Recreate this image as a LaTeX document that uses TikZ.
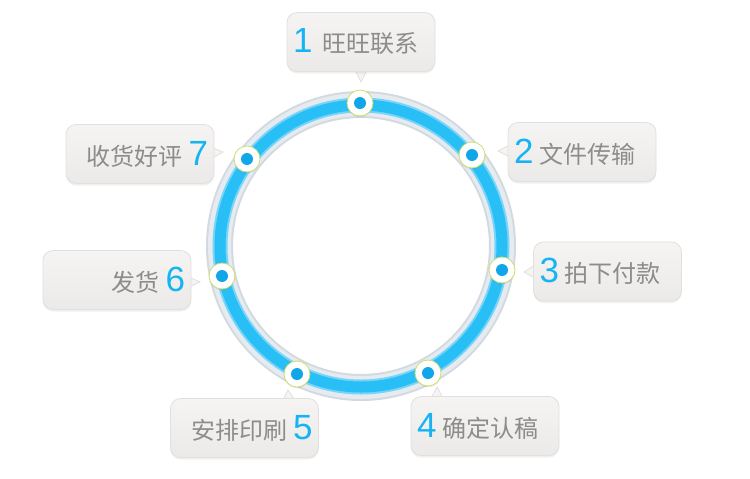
\documentclass[tikz,border=0pt]{standalone}
\usepackage{fontspec}
\setmainfont{Liberation Sans}
\newfontfamily\cjk{Noto Sans CJK SC}
\usepackage{tikz}
\usetikzlibrary{calc, shadows}
\definecolor{ringgray}{RGB}{210,217,224}
\definecolor{ringlight}{RGB}{230,235,239}
\definecolor{ringblue}{RGB}{40,190,246}
\definecolor{ringedge}{RGB}{120,212,248}
\definecolor{dotblue}{RGB}{16,166,232}
\definecolor{dotring}{RGB}{205,222,110}
\definecolor{numblue}{RGB}{22,180,242}
\definecolor{txtgray}{RGB}{140,140,140}
\definecolor{bubtop}{RGB}{245,244,242}
\definecolor{bubbot}{RGB}{236,234,232}
\definecolor{bubline}{RGB}{226,224,222}
\newcommand{\stepno}[1]{{\fontsize{17.5}{20}\selectfont\color{numblue}#1}}
\newcommand{\steptxt}[1]{{\cjk\fontsize{12}{14}\selectfont\color{txtgray}#1}}
\tikzset{
  bubble/.style={rectangle, draw=bubline, top color=bubtop, bottom color=bubbot,
    rounded corners=5pt, text width=68pt, inner sep=3pt, minimum height=29.5pt,
    line width=0.4pt, drop shadow={opacity=0.12, shadow xshift=0pt, shadow yshift=-1pt}},
  leftbub/.style={bubble, align=left},
  rightbub/.style={bubble, align=right},
  tail/.style={fill=bubtop, draw=bubline, line width=0.4pt},
  dot/.style={circle, fill=white, draw=dotring, line width=0.4pt, minimum size=13pt,
    inner sep=0pt, drop shadow={opacity=0.18, shadow xshift=0pt, shadow yshift=-0.6pt},
    path picture={\fill[dotblue] (path picture bounding box.center) circle (3pt);}}
}
\begin{document}
\begin{tikzpicture}[x=0.5pt, y=-0.5pt]
  \useasboundingbox (0,0) rectangle (750,478);

  % Ring
  \coordinate (ctr) at (361,246);
  \draw[ringgray, line width=13.5pt] (ctr) circle (141.5);
  \draw[ringlight, line width=11.5pt] (ctr) circle (141.5);
  \draw[ringedge, line width=7.5pt] (ctr) circle (141);
  \draw[ringblue, line width=5.5pt] (ctr) circle (141);

  % Dots on the ring
  \node[dot] (d1) at (360,103) {};
  \node[dot] (d2) at (472,155) {};
  \node[dot] (d3) at (502,270) {};
  \node[dot] (d4) at (428,373) {};
  \node[dot] (d5) at (297,374) {};
  \node[dot] (d6) at (222,276) {};
  \node[dot] (d7) at (247,159) {};

  % Tails
  \draw[tail] (355,70) -- (361,82) -- (367,70) -- cycle;
  \draw[tail] (510,145) -- (498,151) -- (510,157) -- cycle;
  \draw[tail] (535,265) -- (524,272) -- (535,278) -- cycle;
  \draw[tail] (431,398) -- (437,387) -- (443,398) -- cycle;
  \draw[tail] (283,400) -- (288,390) -- (295,400) -- cycle;
  \draw[tail] (187,276) -- (200,282) -- (187,288) -- cycle;
  \draw[tail] (211,147) -- (223,152) -- (211,159) -- cycle;

  % Bubbles
  \node[leftbub] (b1) at (361,42) {\stepno{1}\hspace{5pt}\steptxt{旺旺联系}};
  \node[leftbub] (b2) at (582,152) {\stepno{2}\hspace{3pt}\steptxt{文件传输}};
  \node[leftbub] (b3) at (607.5,271.5) {\stepno{3}\hspace{3pt}\steptxt{拍下付款}};
  \node[leftbub] (b4) at (485,426) {\stepno{4}\hspace{3pt}\steptxt{确定认稿}};
  \node[rightbub] (b5) at (244.5,428) {\steptxt{安排印刷}\hspace{3pt}\stepno{5}};
  \node[rightbub] (b6) at (117,280) {\steptxt{发货}\hspace{3pt}\stepno{6}};
  \node[rightbub] (b7) at (140,154) {\steptxt{收货好评}\hspace{3pt}\stepno{7}};
\end{tikzpicture}
\end{document}
